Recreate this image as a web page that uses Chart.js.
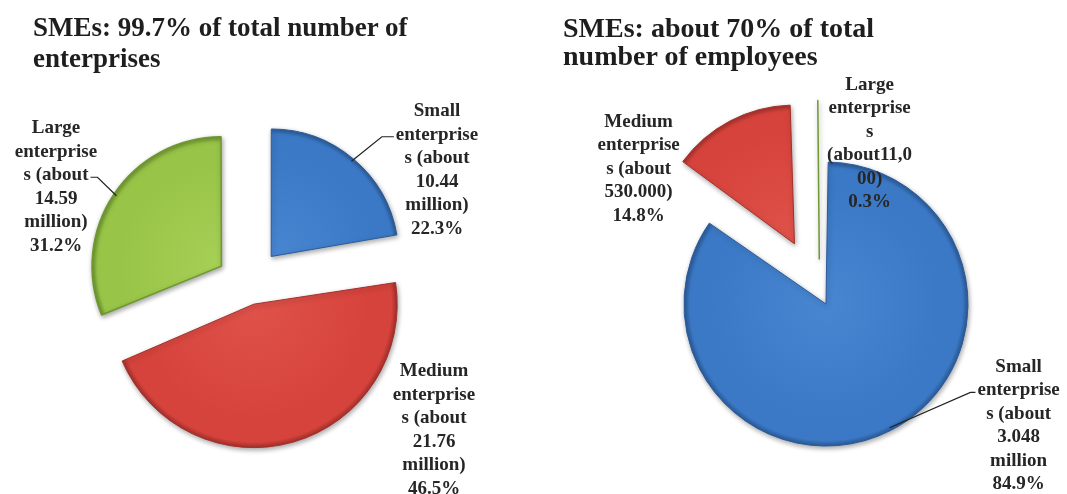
<!DOCTYPE html>
<html>
<head>
<meta charset="utf-8">
<script src="https://cdn.jsdelivr.net/npm/chart.js@4.4.1/dist/chart.umd.min.js"></script>
<style>
  body { margin: 0; background: #fff; width: 1067px; height: 494px; overflow: hidden; position: relative; }
  canvas { position: absolute; top: 0; }
  .title {
    position: absolute;
    font-family: "Liberation Serif", "Times New Roman", serif;
    font-weight: bold;
    font-size: 27px;
    line-height: 31px;
    color: #1e1e1e;
    white-space: nowrap;
    z-index: 2;
  }
</style>
</head>
<body>
<canvas id="chart-left" width="533" height="494" style="left:0"></canvas>
<canvas id="chart-right" width="534" height="494" style="left:533px"></canvas>
<div class="title" id="title-left" style="left:33px; top:12px;"></div>
<div class="title" id="title-right" style="left:563px; top:14px; font-size:28px; line-height:28px;"></div>
<script>
// Data
const categories = ["Small enterprises", "Medium enterprises", "Large enterprises"];
const enterpriseShares = [22.3, 46.5, 31.2];
const employeeShares = [84.9, 14.8, 0.3];

const enterpriseTitle = ["SMEs: 99.7% of total number of", "enterprises"];
const employeeTitle = ["SMEs: about 70% of total", "number of employees"];

// label text (without the percentage line), wrapped like the original
const enterpriseLabelLines = [
  ["Small", "enterprise", "s (about", "10.44", "million)"],
  ["Medium", "enterprise", "s (about", "21.76", "million)"],
  ["Large", "enterprise", "s (about", "14.59", "million)"],
];
const employeeLabelLines = [
  ["Small", "enterprise", "s (about", "3.048", "million"],
  ["Medium", "enterprise", "s (about", "530.000)"],
  ["Large", "enterprise", "s", "(about11,0", "00)"],
];

const sliceColors = ["#3b79c6", "#d6433c", "#98c447"];
const sliceLight = ["#4886d2", "#df524a", "#a6d056"];
const sliceDark = ["#2a5a98", "#a42f2b", "#6e9830"];

const LINE_H = 23.5;

document.getElementById("title-left").innerHTML = enterpriseTitle.join("<br>");
document.getElementById("title-right").innerHTML = employeeTitle.join("<br>");

const sliceLabels = {
  id: "sliceLabels",
  beforeDatasetsDraw(chart) {
    const ctx = chart.ctx;
    const meta = chart.getDatasetMeta(0);
    meta.data.forEach((arc, i) => {
      const t = (arc.options.offset || 0) / 4;
      const fix = 1 - Math.sin(Math.min(Math.PI, arc.circumference));
      const r = arc.outerRadius + t * fix;
      // gradient is in the arc's translated space, so centre is arc.x/arc.y
      const g = ctx.createRadialGradient(arc.x, arc.y, 0, arc.x, arc.y, r);
      g.addColorStop(0, sliceLight[i]);
      g.addColorStop(0.8, sliceColors[i]);
      g.addColorStop(0.96, sliceColors[i]);
      g.addColorStop(1, sliceDark[i]);
      arc.options = { ...arc.options, backgroundColor: g };
    });
    ctx.save();
    ctx.shadowColor = "rgba(0,0,0,0.35)";
    ctx.shadowBlur = 5;
    ctx.shadowOffsetX = 1;
    ctx.shadowOffsetY = 2;
  },
  afterDatasetsDraw(chart, args, opts) {
    const ctx = chart.ctx;
    ctx.restore();
    const meta = chart.getDatasetMeta(0);
    const area = chart.chartArea;
    const cx = (area.left + area.right) / 2;
    const cy = (area.top + area.bottom) / 2;
    const values = chart.data.datasets[0].data;

    ctx.save();
    ctx.font = "bold 19px 'Liberation Serif', 'Times New Roman', serif";
    ctx.fillStyle = "#262626";
    ctx.textAlign = "center";
    ctx.textBaseline = "middle";
    ctx.strokeStyle = "#222";
    ctx.lineWidth = 1.2;

    meta.data.forEach((arc, i) => {
      const lines = opts.lines[i].concat([values[i].toFixed(1) + "%"]);
      const lx = cx + opts.place[i][0];
      const top = cy + opts.place[i][1] - ((lines.length - 1) * LINE_H) / 2;
      lines.forEach((txt, k) => ctx.fillText(txt, lx, top + k * LINE_H));

      const lead = opts.leaders[i];
      if (!lead) return;
      const mid = (arc.startAngle + arc.endAngle) / 2;
      const t = (arc.options.offset || 0) / 4;
      const fix = 1 - Math.sin(Math.min(Math.PI, arc.circumference));
      const r = arc.outerRadius + t * fix - 3;
      const sx = arc.x + Math.cos(mid) * (t + r);
      const sy = arc.y + Math.sin(mid) * (t + r);
      const w = ctx.measureText(lines[lead.line]).width;
      const dir = lead.side === "left" ? -1 : 1;
      const ex = lx + dir * (w / 2 + 2);
      const ey = top + lead.line * LINE_H + 2;
      ctx.beginPath();
      ctx.moveTo(sx, sy);
      ctx.lineTo(ex + dir * lead.tail, ey);
      ctx.lineTo(ex, ey);
      ctx.stroke();
    });
    ctx.restore();
  },
};

function makePie(canvasId, shares, center, radius, offsets, labelOpts) {
  const canvas = document.getElementById(canvasId);
  const w = canvas.width;
  const h = canvas.height;
  // padding so that the chart area centre lands on the pie centre
  const padding = {
    left: 2 * center[0] > w ? 2 * center[0] - w : 0,
    right: 2 * center[0] > w ? 0 : w - 2 * center[0],
    top: 2 * center[1] > h ? 2 * center[1] - h : 0,
    bottom: 2 * center[1] > h ? 0 : h - 2 * center[1],
  };
  return new Chart(canvas, {
    type: "pie",
    data: {
      labels: categories,
      datasets: [
        {
          data: shares,
          backgroundColor: sliceColors,
          borderColor: sliceDark,
          borderWidth: [1, 1, 1.5],
          offset: offsets,
          radius: radius,
          clip: false,
        },
      ],
    },
    options: {
      responsive: false,
      devicePixelRatio: 1,
      animation: false,
      events: [],
      layout: { padding: padding },
      plugins: {
        legend: { display: false },
        tooltip: { enabled: false },
        sliceLabels: labelOpts,
      },
    },
    plugins: [sliceLabels],
  });
}

makePie("chart-left", enterpriseShares, [248, 284], 127, [144, 84, 128], {
  lines: enterpriseLabelLines,
  place: [[189, -114], [186, 146], [-192, -97]],
  leaders: [
    { line: 1, side: "left", tail: 12 },
    null,
    { line: 2, side: "right", tail: 7 },
  ],
});

makePie("chart-right", employeeShares, [286.6, 291.6], 128, [56, 216, 128], {
  lines: employeeLabelLines,
  place: [[199, 134], [-181, -123], [50, -148]],
  leaders: [
    { line: 1, side: "left", tail: 5 },
    null,
    null,
  ],
});
</script>
</body>
</html>
